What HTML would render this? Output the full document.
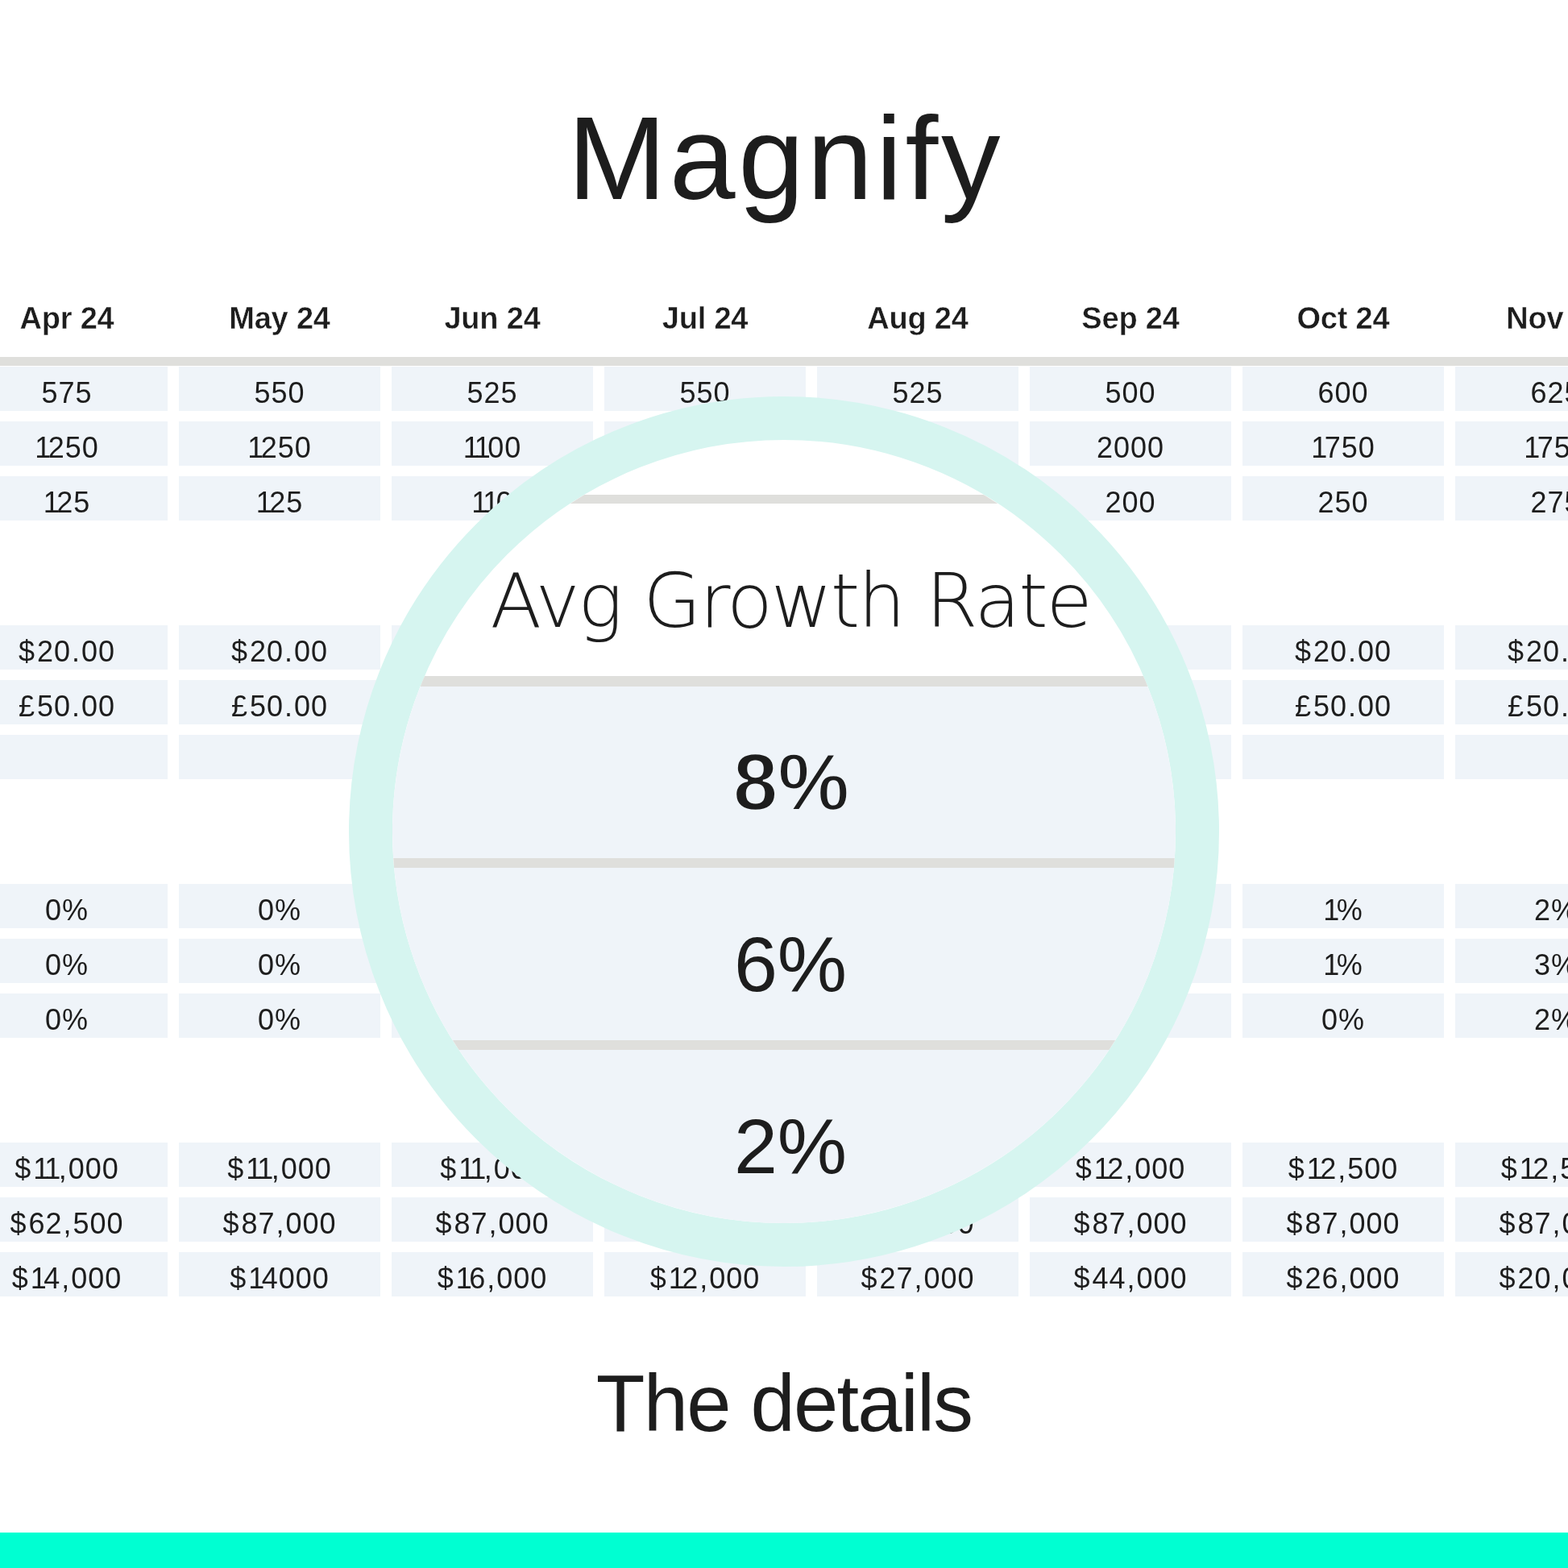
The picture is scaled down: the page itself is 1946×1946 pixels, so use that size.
<!DOCTYPE html>
<html><head><meta charset="utf-8"><title>Magnify</title><style>
*{margin:0;padding:0;box-sizing:border-box}
html,body{width:1946px;height:1946px;overflow:hidden;background:#fff}
body{position:relative;font-family:"Liberation Sans",Arial,sans-serif;color:#1d1d1d}
.t{position:absolute;white-space:nowrap;line-height:1}
h1{position:absolute;left:0;width:1946px;text-align:center;font-weight:400;font-size:147px;line-height:1;top:122.6px;letter-spacing:3.7px;text-indent:3.7px}
.h{position:absolute;width:250px;text-align:center;font-weight:700;font-size:38px;line-height:1;top:375.8px;letter-spacing:-0.2px;-webkit-text-stroke:0.4px #fff}
.hl{position:absolute;left:0;width:1946px;top:443px;height:11px;background:#dfdfdc}
.c{position:absolute;width:250px;height:55px;background:#eff4f9;text-align:center;font-size:36px;line-height:65px;letter-spacing:1px}
.d{margin-right:2px}.p{padding:0 1px}.m{padding:0 1px}.o{letter-spacing:-3.5px}
.foot{position:absolute;left:0;width:1946px;text-align:center;font-size:99.4px;line-height:1;top:1692.4px;letter-spacing:-1.8px}
.bar{position:absolute;left:0;top:1902px;width:1946px;height:44px;background:#00ffd2}
.mag{position:absolute;left:432.5px;top:491.5px;width:1080px;height:1080px;border-radius:50%;border:54px solid #d6f5f0;overflow:hidden;background:#fff}
.mg{position:absolute;left:-500px;width:2000px}
.ml{background:#dfdfdc}
.mb{background:#eff4f9}
.mt{position:absolute;left:8.5px;width:972px;text-align:center;line-height:1;white-space:nowrap}
</style></head>
<body>
<h1>Magnify</h1>
<div class="h" style="left:-42px">Apr 24</div>
<div class="h" style="left:222px">May 24</div>
<div class="h" style="left:486px">Jun 24</div>
<div class="h" style="left:750px">Jul 24</div>
<div class="h" style="left:1014px">Aug 24</div>
<div class="h" style="left:1278px">Sep 24</div>
<div class="h" style="left:1542px">Oct 24</div>
<div class="h" style="left:1806px">Nov 24</div>
<div class="hl"></div>
<div class="c" style="left:-42px;top:455px">575</div>
<div class="c" style="left:222px;top:455px">550</div>
<div class="c" style="left:486px;top:455px">525</div>
<div class="c" style="left:750px;top:455px">550</div>
<div class="c" style="left:1014px;top:455px">525</div>
<div class="c" style="left:1278px;top:455px">500</div>
<div class="c" style="left:1542px;top:455px">600</div>
<div class="c" style="left:1806px;top:455px">625</div>
<div class="c" style="left:-42px;top:523px"><span class="o">1</span>250</div>
<div class="c" style="left:222px;top:523px"><span class="o">1</span>250</div>
<div class="c" style="left:486px;top:523px"><span class="o">1</span><span class="o">1</span>00</div>
<div class="c" style="left:750px;top:523px"><span class="o">1</span><span class="o">1</span>00</div>
<div class="c" style="left:1014px;top:523px"><span class="o">1</span>800</div>
<div class="c" style="left:1278px;top:523px">2000</div>
<div class="c" style="left:1542px;top:523px"><span class="o">1</span>750</div>
<div class="c" style="left:1806px;top:523px"><span class="o">1</span>750</div>
<div class="c" style="left:-42px;top:591px"><span class="o">1</span>25</div>
<div class="c" style="left:222px;top:591px"><span class="o">1</span>25</div>
<div class="c" style="left:486px;top:591px"><span class="o">1</span><span class="o">1</span>0</div>
<div class="c" style="left:750px;top:591px"><span class="o">1</span>50</div>
<div class="c" style="left:1014px;top:591px"><span class="o">1</span>75</div>
<div class="c" style="left:1278px;top:591px">200</div>
<div class="c" style="left:1542px;top:591px">250</div>
<div class="c" style="left:1806px;top:591px">275</div>
<div class="c" style="left:-42px;top:776px"><span class="d">$</span>20<span class="p">.</span>00</div>
<div class="c" style="left:222px;top:776px"><span class="d">$</span>20<span class="p">.</span>00</div>
<div class="c" style="left:486px;top:776px"><span class="d">$</span>20<span class="p">.</span>00</div>
<div class="c" style="left:750px;top:776px"><span class="d">$</span>20<span class="p">.</span>00</div>
<div class="c" style="left:1014px;top:776px"><span class="d">$</span>20<span class="p">.</span>00</div>
<div class="c" style="left:1278px;top:776px"><span class="d">$</span>20<span class="p">.</span>00</div>
<div class="c" style="left:1542px;top:776px"><span class="d">$</span>20<span class="p">.</span>00</div>
<div class="c" style="left:1806px;top:776px"><span class="d">$</span>20<span class="p">.</span>00</div>
<div class="c" style="left:-42px;top:844px"><span class="d">£</span>50<span class="p">.</span>00</div>
<div class="c" style="left:222px;top:844px"><span class="d">£</span>50<span class="p">.</span>00</div>
<div class="c" style="left:486px;top:844px"><span class="d">£</span>50<span class="p">.</span>00</div>
<div class="c" style="left:750px;top:844px"><span class="d">£</span>50<span class="p">.</span>00</div>
<div class="c" style="left:1014px;top:844px"><span class="d">£</span>50<span class="p">.</span>00</div>
<div class="c" style="left:1278px;top:844px"><span class="d">£</span>50<span class="p">.</span>00</div>
<div class="c" style="left:1542px;top:844px"><span class="d">£</span>50<span class="p">.</span>00</div>
<div class="c" style="left:1806px;top:844px"><span class="d">£</span>50<span class="p">.</span>00</div>
<div class="c" style="left:-42px;top:912px"></div>
<div class="c" style="left:222px;top:912px"></div>
<div class="c" style="left:486px;top:912px"></div>
<div class="c" style="left:750px;top:912px"></div>
<div class="c" style="left:1014px;top:912px"></div>
<div class="c" style="left:1278px;top:912px"></div>
<div class="c" style="left:1542px;top:912px"></div>
<div class="c" style="left:1806px;top:912px"></div>
<div class="c" style="left:-42px;top:1097px">0%</div>
<div class="c" style="left:222px;top:1097px">0%</div>
<div class="c" style="left:486px;top:1097px">0%</div>
<div class="c" style="left:750px;top:1097px">0%</div>
<div class="c" style="left:1014px;top:1097px"><span class="o">1</span>%</div>
<div class="c" style="left:1278px;top:1097px"><span class="o">1</span>%</div>
<div class="c" style="left:1542px;top:1097px"><span class="o">1</span>%</div>
<div class="c" style="left:1806px;top:1097px">2%</div>
<div class="c" style="left:-42px;top:1165px">0%</div>
<div class="c" style="left:222px;top:1165px">0%</div>
<div class="c" style="left:486px;top:1165px">0%</div>
<div class="c" style="left:750px;top:1165px"><span class="o">1</span>%</div>
<div class="c" style="left:1014px;top:1165px"><span class="o">1</span>%</div>
<div class="c" style="left:1278px;top:1165px"><span class="o">1</span>%</div>
<div class="c" style="left:1542px;top:1165px"><span class="o">1</span>%</div>
<div class="c" style="left:1806px;top:1165px">3%</div>
<div class="c" style="left:-42px;top:1233px">0%</div>
<div class="c" style="left:222px;top:1233px">0%</div>
<div class="c" style="left:486px;top:1233px">0%</div>
<div class="c" style="left:750px;top:1233px">0%</div>
<div class="c" style="left:1014px;top:1233px">0%</div>
<div class="c" style="left:1278px;top:1233px">0%</div>
<div class="c" style="left:1542px;top:1233px">0%</div>
<div class="c" style="left:1806px;top:1233px">2%</div>
<div class="c" style="left:-42px;top:1418px"><span class="d">$</span><span class="o">1</span><span class="o">1</span><span class="m">,</span>000</div>
<div class="c" style="left:222px;top:1418px"><span class="d">$</span><span class="o">1</span><span class="o">1</span><span class="m">,</span>000</div>
<div class="c" style="left:486px;top:1418px"><span class="d">$</span><span class="o">1</span><span class="o">1</span><span class="m">,</span>000</div>
<div class="c" style="left:750px;top:1418px"><span class="d">$</span><span class="o">1</span><span class="o">1</span><span class="m">,</span>500</div>
<div class="c" style="left:1014px;top:1418px"><span class="d">$</span><span class="o">1</span>2<span class="m">,</span>000</div>
<div class="c" style="left:1278px;top:1418px"><span class="d">$</span><span class="o">1</span>2<span class="m">,</span>000</div>
<div class="c" style="left:1542px;top:1418px"><span class="d">$</span><span class="o">1</span>2<span class="m">,</span>500</div>
<div class="c" style="left:1806px;top:1418px"><span class="d">$</span><span class="o">1</span>2<span class="m">,</span>500</div>
<div class="c" style="left:-42px;top:1486px"><span class="d">$</span>62<span class="m">,</span>500</div>
<div class="c" style="left:222px;top:1486px"><span class="d">$</span>87<span class="m">,</span>000</div>
<div class="c" style="left:486px;top:1486px"><span class="d">$</span>87<span class="m">,</span>000</div>
<div class="c" style="left:750px;top:1486px"><span class="d">$</span>87<span class="m">,</span>000</div>
<div class="c" style="left:1014px;top:1486px"><span class="d">$</span>87<span class="m">,</span>000</div>
<div class="c" style="left:1278px;top:1486px"><span class="d">$</span>87<span class="m">,</span>000</div>
<div class="c" style="left:1542px;top:1486px"><span class="d">$</span>87<span class="m">,</span>000</div>
<div class="c" style="left:1806px;top:1486px"><span class="d">$</span>87<span class="m">,</span>000</div>
<div class="c" style="left:-42px;top:1554px"><span class="d">$</span><span class="o">1</span>4<span class="m">,</span>000</div>
<div class="c" style="left:222px;top:1554px"><span class="d">$</span><span class="o">1</span>4000</div>
<div class="c" style="left:486px;top:1554px"><span class="d">$</span><span class="o">1</span>6<span class="m">,</span>000</div>
<div class="c" style="left:750px;top:1554px"><span class="d">$</span><span class="o">1</span>2<span class="m">,</span>000</div>
<div class="c" style="left:1014px;top:1554px"><span class="d">$</span>27<span class="m">,</span>000</div>
<div class="c" style="left:1278px;top:1554px"><span class="d">$</span>44<span class="m">,</span>000</div>
<div class="c" style="left:1542px;top:1554px"><span class="d">$</span>26<span class="m">,</span>000</div>
<div class="c" style="left:1806px;top:1554px"><span class="d">$</span>20<span class="m">,</span>000</div>
<div class="foot">The details</div>
<div class="bar"></div>
<div class="mag"><div class="mg ml" style="top:68.5px;height:11px"></div><div class="mg ml" style="top:293.5px;height:12.5px"></div><div class="mg mb" style="top:306.5px;height:213px"></div><div class="mg ml" style="top:519.5px;height:12px"></div><div class="mg mb" style="top:531.5px;height:214px"></div><div class="mg ml" style="top:745.5px;height:12px"></div><div class="mg mb" style="top:757.5px;height:400px"></div><div class="mt" style="top:154.5px;font-size:93px;font-family:'DejaVu Sans',sans-serif;font-weight:200;letter-spacing:-2.2px">Avg Growth Rate</div><div class="mt" style="top:374.0px;font-size:100px;font-weight:700;letter-spacing:0px;text-indent:0px;margin-left:1px;-webkit-text-stroke:2.5px #eff4f9">8%</div><div class="mt" style="top:602.9000000000001px;font-size:97px">6%</div><div class="mt" style="top:828.4000000000001px;font-size:97px">2%</div></div>
</body></html>
